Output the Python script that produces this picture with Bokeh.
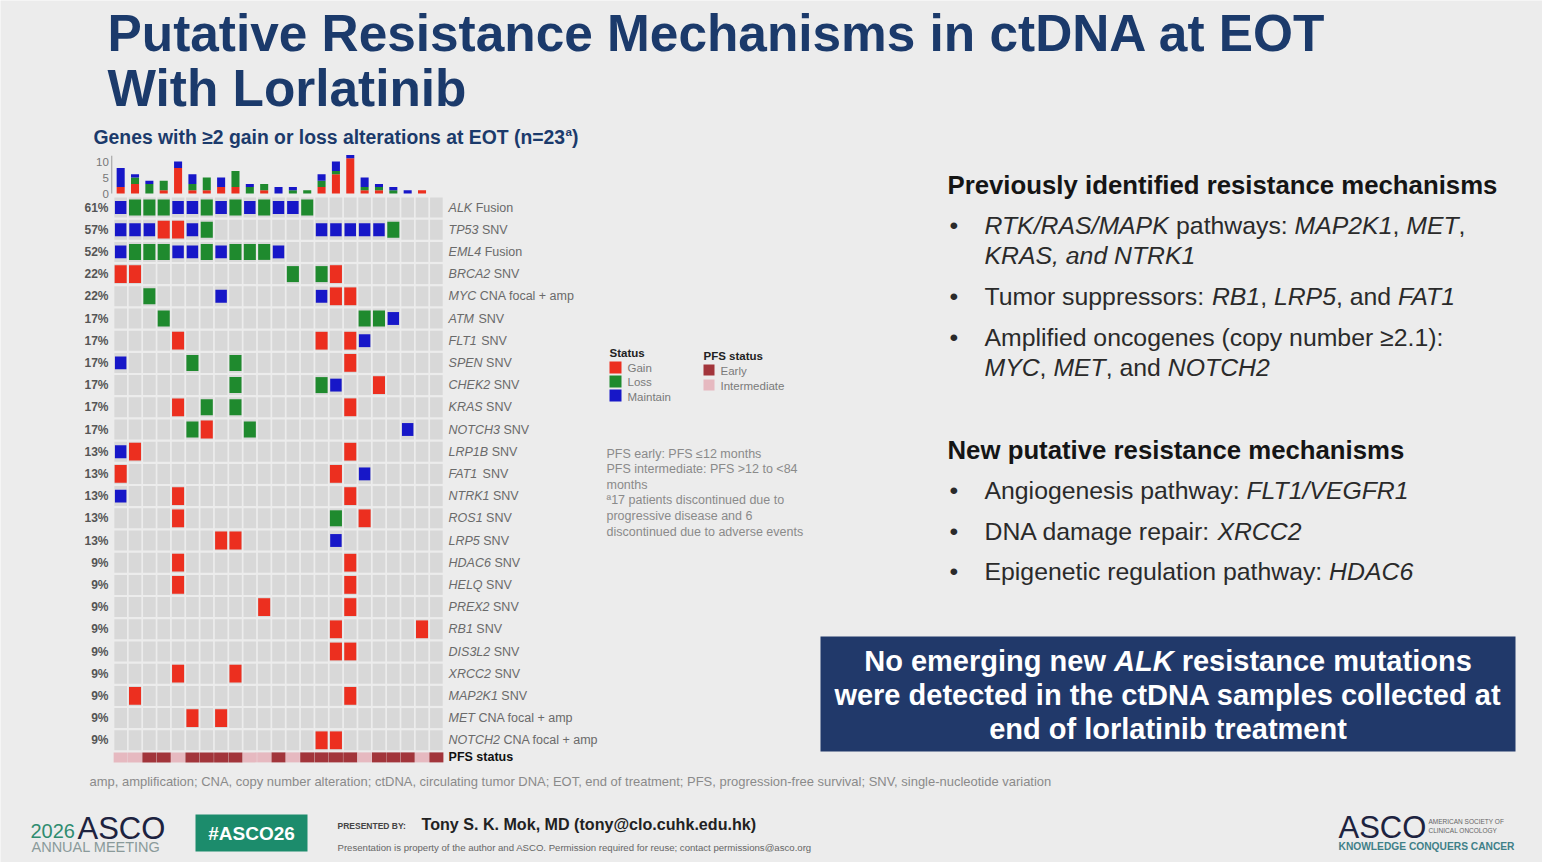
from bokeh.plotting import figure
from bokeh.models import Range1d, ColumnDataSource
from bokeh.core.properties import value
from bokeh.embed import file_html
from bokeh.resources import INLINE

# ---------------- data ----------------
n_patients = 23
genes = ["ALK", "TP53", "EML4", "BRCA2", "MYC", "ATM", "FLT1", "SPEN", "CHEK2", "KRAS",
         "NOTCH3", "LRP1B", "FAT1", "NTRK1", "ROS1", "LRP5", "HDAC6", "HELQ", "PREX2",
         "RB1", "DIS3L2", "XRCC2", "MAP2K1", "MET", "NOTCH2"]
alteration = ["Fusion", "SNV", "Fusion", "SNV", "CNA focal + amp", "SNV", "SNV", "SNV", "SNV",
              "SNV", "SNV", "SNV", "SNV", "SNV", "SNV", "SNV", "SNV", "SNV", "SNV", "SNV",
              "SNV", "SNV", "SNV", "CNA focal + amp", "CNA focal + amp"]
# one character per patient: G = gain, L = loss, M = maintain, . = none
status = [
    "MLLLMMLMLMLMML" + "." * 9,                       # ALK
    "MMMGGML" + "." * 7 + "MMMMML" + "." * 3,         # TP53
    "MLLLMMLMLLLM" + "." * 11,                        # EML4
    "GG" + "." * 10 + "L.LG" + "." * 7,               # BRCA2
    "..L....M" + "." * 6 + "MGG" + "." * 6,           # MYC
    "...L" + "." * 13 + "LLM" + "." * 3,              # ATM
    "....G" + "." * 9 + "G.GM" + "." * 5,             # FLT1
    "M....L..L" + "." * 7 + "G" + "." * 6,            # SPEN
    "." * 8 + "L" + "." * 5 + "LM..G" + "." * 4,      # CHEK2
    "....G.L.L" + "." * 7 + "G" + "." * 6,            # KRAS
    ".....LG..L" + "." * 10 + "M..",                  # NOTCH3
    "MG" + "." * 14 + "G" + "." * 6,                  # LRP1B
    "G" + "." * 14 + "G.M" + "." * 5,                 # FAT1
    "M...G" + "." * 11 + "G" + "." * 6,               # NTRK1
    "....G" + "." * 10 + "L.G" + "." * 5,             # ROS1
    "." * 7 + "GG" + "." * 6 + "M" + "." * 7,         # LRP5
    "....G" + "." * 11 + "G" + "." * 6,               # HDAC6
    "....G" + "." * 11 + "G" + "." * 6,               # HELQ
    "." * 10 + "G" + "." * 5 + "G" + "." * 6,         # PREX2
    "." * 15 + "G" + "." * 5 + "G.",                  # RB1
    "." * 15 + "GG" + "." * 6,                        # DIS3L2
    "....G...G" + "." * 14,                           # XRCC2
    ".G" + "." * 14 + "G" + "." * 6,                  # MAP2K1
    ".....G.G" + "." * 15,                            # MET
    "." * 14 + "GG" + "." * 7,                        # NOTCH2
]
pfs_status = "IIEEIEEEEIIEIEEEEIEEEIE"   # E = early, I = intermediate
bar_ticks = [0, 5, 10]

# ---------------- styling ----------------
BG = "#ececec"
NAVY = "#1b3a6b"
RED, GREEN, BLUE = "#ec2f1f", "#1f8a2e", "#1717c8"
EARLY, INTER = "#a2353b", "#e6b9c0"
CELL_GRAY = "#d8d8d8"
FONT = "Liberation Sans"
W, H = 1542, 862

REG = dict(zip("ABCDEFGHIJKLMNOPQRSTUVWXYZ",
               [667, 667, 722, 722, 667, 611, 778, 722, 278, 500, 667, 556, 833, 722, 778, 667,
                778, 722, 667, 611, 722, 667, 944, 667, 667, 611]))
REG.update(zip("abcdefghijklmnopqrstuvwxyz",
               [556, 556, 500, 556, 556, 278, 556, 556, 222, 222, 500, 222, 833, 556, 556, 556,
                556, 333, 500, 278, 556, 500, 722, 500, 500, 500]))
REG.update({c: 556 for c in "0123456789"})
REG.update({" ": 278, ",": 278, ".": 278, ":": 278, ";": 278, "/": 278, "(": 333, ")": 333,
            "-": 333, "+": 584, "<": 584, ">": 584, "=": 584, "%": 889, "@": 1015, "#": 556,
            "≥": 549, "≤": 549, "•": 350, "ª": 370})
BOLD = dict(zip("ABCDEFGHIJKLMNOPQRSTUVWXYZ",
                [722, 722, 722, 722, 667, 611, 778, 722, 278, 556, 722, 611, 833, 722, 778, 667,
                 778, 722, 667, 611, 722, 667, 944, 667, 667, 611]))
BOLD.update(zip("abcdefghijklmnopqrstuvwxyz",
                [556, 611, 556, 611, 556, 333, 611, 611, 278, 278, 556, 278, 889, 611, 611, 611,
                 611, 389, 556, 333, 611, 556, 778, 556, 556, 500]))
BOLD.update({c: 556 for c in "0123456789"})
BOLD.update({" ": 278, ",": 278, ".": 278, ":": 333, ";": 333, "/": 278, "(": 333, ")": 333,
             "-": 333, "+": 584, "=": 584, "%": 889, "@": 975, "#": 556, "≥": 549, "ª": 370})


def tw(s, size, bold=False):
    tbl = BOLD if bold else REG
    return sum(tbl.get(c, 556) for c in s) / 1000.0 * size


def fit(s, width, bold=False):
    return width / tw(s, 1.0, bold)


T = dict(x=[], y=[], text=[], size=[], style=[], color=[], align=[], font=[])


def put(x, y, s, size, style="normal", color="#222222", align="left", font=FONT):
    T["x"].append(x); T["y"].append(y); T["text"].append(s)
    T["size"].append("%.2fpx" % size); T["style"].append(style); T["color"].append(color)
    T["align"].append(align); T["font"].append(font)


def runs(x, y, parts, size, color, align="left"):
    total = sum(tw(t, size, "bold" in st) for t, st in parts)
    if align == "center":
        x -= total / 2.0
    for t, st in parts:
        b = "bold" in st
        lead = len(t) - len(t.lstrip(" "))
        x += tw(" " * lead, size, b)
        body = t.strip(" ")
        if body:
            put(x, y, body, size, st, color)
        x += tw(t.lstrip(" "), size, b)


# ---------------- figure (page-pixel coordinates for the slide) ----------------
p = figure(width=W, height=H, x_range=Range1d(0, W), y_range=Range1d(H, 0),
           output_backend="svg", toolbar_location=None, min_border=0,
           x_axis_location=None, y_axis_location=None,
           background_fill_color=BG, border_fill_color=BG, outline_line_color=None)
p.grid.visible = False

# oncoprint scales
GX0, PX = 113.0, 14.35      # grid left edge, column pitch (px)
GY0, PY = 207.0, 22.2       # first row centre, row pitch (px)
C0, CU = 193.0, 3.2         # bar baseline, px per count
p.extra_x_ranges = {"pat": Range1d((0 - GX0) / PX - 0.5, (W - GX0) / PX - 0.5)}
p.extra_y_ranges = {"gene": Range1d((H - GY0) / PY, (0 - GY0) / PY),
                    "cnt": Range1d((C0 - H) / CU, (C0 - 0) / CU)}

ng = len(genes)
# background cells
bx, by = [], []
for r in range(ng):
    for j in range(n_patients):
        bx.append(j); by.append(r)
p.rect(x=bx, y=by, width=0.88, height=0.9, fill_color=CELL_GRAY, line_color=None,
       x_range_name="pat", y_range_name="gene")

# alteration cells
STY = {"G": (RED, 0.84, 0.8), "L": (GREEN, 0.84, 0.72), "M": (BLUE, 0.8, 0.58)}
cell = dict(x=[], y=[], c=[], w=[], h=[])
for r, row in enumerate(status):
    for j, ch in enumerate(row):
        if ch in STY:
            col, w, h = STY[ch]
            cell["x"].append(j); cell["y"].append(r); cell["c"].append(col)
            cell["w"].append(w); cell["h"].append(h)
p.rect(x="x", y="y", width="w", height="h", fill_color="c", line_color=None,
       source=ColumnDataSource(cell), x_range_name="pat", y_range_name="gene")

# PFS status strip
PFS_ROW = ng - 1 + 0.77
p.rect(x=list(range(n_patients)), y=[PFS_ROW] * n_patients, width=0.98, height=0.45,
       fill_color=[EARLY if s == "E" else INTER for s in pfs_status], line_color=None,
       x_range_name="pat", y_range_name="gene")

# stacked bar of alterations per patient
bars = dict(pat=list(range(n_patients)),
            Gain=[sum(row[j] == "G" for row in status) for j in range(n_patients)],
            Loss=[sum(row[j] == "L" for row in status) for j in range(n_patients)],
            Maintain=[sum(row[j] == "M" for row in status) for j in range(n_patients)])
p.vbar_stack(["Gain", "Loss", "Maintain"], x="pat", width=0.56, fill_color=[RED, GREEN, BLUE],
             line_color=None, source=ColumnDataSource(bars),
             x_range_name="pat", y_range_name="cnt")
p.segment(x0=[-0.62], y0=[0], x1=[-0.62], y1=[11.8], line_color="#9a9a9a", line_width=1,
          x_range_name="pat", y_range_name="cnt")
p.text(x=[-0.62] * len(bar_ticks), y=bar_ticks, text=[str(t) for t in bar_ticks], x_offset=-3,
       text_align="right", text_baseline="middle", text_font=value(FONT),
       text_font_size="11.5px", text_color="#777777", x_range_name="pat", y_range_name="cnt")

# row labels
counts = [sum(ch != "." for ch in row) for row in status]
pcts = ["%d%%" % round(100.0 * c / n_patients) for c in counts]
p.text(x=[-0.5] * ng, y=list(range(ng)), text=pcts, x_offset=-5, text_align="right",
       text_baseline="middle", text_font=value(FONT), text_font_size="12px",
       text_font_style="bold", text_color="#555555", x_range_name="pat", y_range_name="gene")
GL = 12.5
p.text(x=[n_patients - 0.5] * ng, y=list(range(ng)), text=genes, x_offset=5,
       text_align="left", text_baseline="middle", text_font=value(FONT),
       text_font_size="%.1fpx" % GL, text_font_style="italic", text_color="#6a6a6a",
       x_range_name="pat", y_range_name="gene")
p.text(x=[n_patients - 0.5] * ng, y=list(range(ng)), text=alteration,
       x_offset=[5 + tw(g + " ", GL) for g in genes],
       text_align="left", text_baseline="middle", text_font=value(FONT),
       text_font_size="%.1fpx" % GL, text_color="#6a6a6a",
       x_range_name="pat", y_range_name="gene")
p.text(x=[n_patients - 0.5], y=[PFS_ROW], text=["PFS status"], x_offset=5, text_align="left",
       text_baseline="middle", text_font=value(FONT), text_font_size="12.5px",
       text_font_style="bold", text_color="#111111", x_range_name="pat", y_range_name="gene")

# ---------------- slide texts ----------------
T1 = "Putative Resistance Mechanisms in ctDNA at EOT"
TS = fit(T1, 1219, True)
put(107, 32, T1, TS, "bold", NAVY)
put(107, 87, "With Lorlatinib", TS, "bold", NAVY)

SUB = "Genes with ≥2 gain or loss alterations at EOT (n=23"
SS = 485 / (tw(SUB, 1, True) + tw("a", 0.6, True) + tw(")", 1, True))
put(93, 136, SUB, SS, "bold", NAVY)
xa = 93 + tw(SUB, SS, True)
put(xa, 131, "a", SS * 0.6, "bold", NAVY)
put(xa + tw("a", SS * 0.6, True), 136, ")", SS, "bold", NAVY)

# legend
put(609, 352, "Status", 11.5, "bold", "#222222")
put(627, 367, "Gain", 11.5, "normal", "#7a7a7a")
put(627, 381, "Loss", 11.5, "normal", "#7a7a7a")
put(627, 396, "Maintain", 11.5, "normal", "#7a7a7a")
put(703, 355, "PFS status", 11.5, "bold", "#222222")
put(720, 370, "Early", 11.5, "normal", "#7a7a7a")
put(720, 385, "Intermediate", 11.5, "normal", "#7a7a7a")
p.quad(left=[609, 609, 609, 703, 703], right=[621, 621, 621, 714, 714],
       top=[361, 375, 389, 364, 379], bottom=[373, 387, 401, 375, 390],
       fill_color=[RED, GREEN, BLUE, EARLY, INTER], line_color=None)

notes = ["PFS early: PFS ≤12 months", "PFS intermediate: PFS >12 to <84", "months",
         "ª17 patients discontinued due to", "progressive disease and 6",
         "discontinued due to adverse events"]
for i, s in enumerate(notes):
    put(606, 453 + i * 15.6, s, 12.5, "normal", "#8a8a8a")

# right panel
HS = fit("Previously identified resistance mechanisms", 550, True)
BS = 24.8
TXT = "#2a2a2a"
put(947, 184, "Previously identified resistance mechanisms", HS, "bold", "#151515")
for yb in [225, 296, 337, 490, 531, 571]:
    put(949, yb, "•", BS, "normal", TXT)
runs(984, 225, [("RTK/RAS/MAPK", "italic"), (" pathways: ", "normal"), ("MAP2K1", "italic"),
                (", ", "normal"), ("MET", "italic"), (",", "normal")], BS, TXT)
runs(984, 255, [("KRAS, and NTRK1", "italic")], BS, TXT)
runs(984, 296, [("Tumor suppressors: ", "normal"), ("RB1", "italic"), (", ", "normal"),
                ("LRP5", "italic"), (", and ", "normal"), ("FAT1", "italic")], BS, TXT)
runs(984, 337, [("Amplified oncogenes (copy number ≥2.1):", "normal")], BS, TXT)
runs(984, 367, [("MYC", "italic"), (", ", "normal"), ("MET", "italic"), (", and ", "normal"),
                ("NOTCH2", "italic")], BS, TXT)
put(947, 449, "New putative resistance mechanisms", HS, "bold", "#151515")
runs(984, 490, [("Angiogenesis pathway: ", "normal"), ("FLT1/VEGFR1", "italic")], BS, TXT)
runs(984, 531, [("DNA damage repair: ", "normal"), ("XRCC2", "italic")], BS, TXT)
runs(984, 571, [("Epigenetic regulation pathway: ", "normal"), ("HDAC6", "italic")], BS, TXT)

# navy call-out box
p.quad(left=[820], right=[1515], top=[636], bottom=[751], fill_color="#21396a", line_color=None)
XS = 29
runs(1167.5, 660, [("No emerging new ", "bold"), ("ALK", "bold italic"),
                   (" resistance mutations", "bold")], XS, "#ffffff", "center")
runs(1167.5, 694, [("were detected in the ctDNA samples collected at", "bold")], XS, "#ffffff",
     "center")
runs(1167.5, 728, [("end of lorlatinib treatment", "bold")], XS, "#ffffff", "center")

# footnote
ABBR = ("amp, amplification; CNA, copy number alteration; ctDNA, circulating tumor DNA; "
        "EOT, end of treatment; PFS, progression-free survival; SNV, single-nucleotide variation")
put(89, 781, ABBR, fit(ABBR, 965), "normal", "#8a8a8a")

# footer
put(30, 830, "2026", 20, "normal", "#2f8c70")
put(77, 828, "ASCO", 31, "normal", "#1d2340")
put(31, 846, "ANNUAL MEETING", 14.5, "normal", "#8a9a9a")
p.quad(left=[195], right=[307], top=[814], bottom=[851], fill_color="#1c8c6c", line_color=None)
put(251, 833, "#ASCO26", 19, "bold", "#ffffff", "center")
put(337, 825, "PRESENTED BY:", 8.5, "bold", "#444444")
NAME = "Tony S. K. Mok, MD (tony@clo.cuhk.edu.hk)"
put(421, 823, NAME, fit(NAME, 336, True), "bold", "#222222")
PROP = ("Presentation is property of the author and ASCO. Permission required for reuse; "
        "contact permissions@asco.org")
put(337, 847, PROP, fit(PROP, 475), "normal", "#666666")
put(1338, 827, "ASCO", 31, "normal", "#1d2340")
put(1428, 821, "AMERICAN SOCIETY OF", 6.5, "normal", "#666666")
put(1428, 830, "CLINICAL ONCOLOGY", 6.5, "normal", "#666666")
KCC = "KNOWLEDGE CONQUERS CANCER"
put(1338, 846, KCC, fit(KCC, 176, True), "bold", "#3f8088")

p.text(x="x", y="y", text="text", text_font="font", text_font_size="size",
       text_font_style="style", text_color="color", text_align="align",
       text_baseline="middle", source=ColumnDataSource(T))

open("out.html", "w").write(file_html(p, INLINE))
